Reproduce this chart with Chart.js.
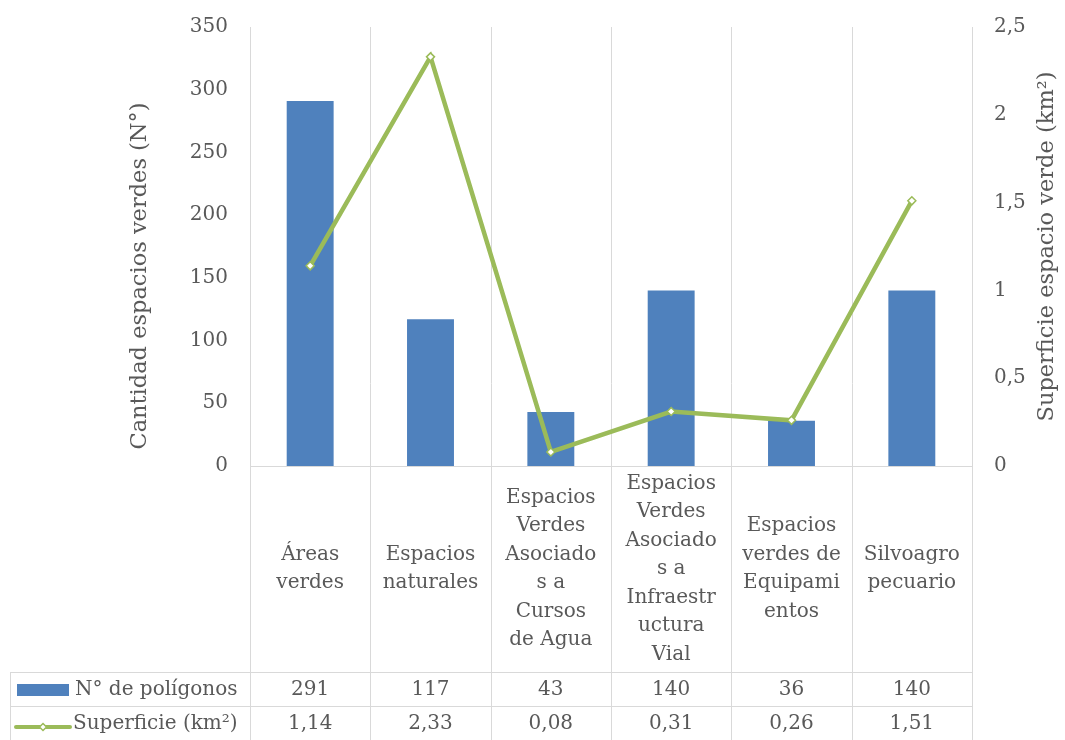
<!DOCTYPE html>
<html>
<head>
<meta charset="utf-8">
<script src="https://cdn.jsdelivr.net/npm/chart.js@4/dist/chart.umd.min.js"></script>
<style>
    html, body { margin: 0; padding: 0; background: #fff; }
    canvas { display: block; }
</style>
</head>
<body>
<canvas id="chart" width="1065" height="740"></canvas>
<script>
'use strict';

// categorias (ya partidas en lineas como en la tabla)
var categories = [
    ['Áreas', 'verdes'],
    ['Espacios', 'naturales'],
    ['Espacios', 'Verdes', 'Asociado', 's a', 'Cursos', 'de Agua'],
    ['Espacios', 'Verdes', 'Asociado', 's a', 'Infraestr', 'uctura', 'Vial'],
    ['Espacios', 'verdes de', 'Equipami', 'entos'],
    ['Silvoagro', 'pecuario']
];
var poligonos = [291, 117, 43, 140, 36, 140];
var superficie = [1.14, 2.33, 0.08, 0.31, 0.26, 1.51];
var seriesNames = ['N° de polígonos', 'Superficie (km²)'];
var leftTitle = 'Cantidad espacios verdes (N°)';
var rightTitle = 'Superficie espacio verde (km²)';

var FONT = '"DejaVu Serif", "Liberation Serif", serif';
var TEXT = '#595959';
var GRID = '#d9d9d9';
var BLUE = '#4f81bd';
var GREEN = '#9bbb59';

function comma(v, digits) {
    var s = digits === undefined ? String(v) : v.toFixed(digits);
    return s.replace('.', ',');
}

// los ejes no piden margen extra arriba/abajo, el area la fija layout.padding
function fitVertical(width) {
    return function (scale) {
        scale.width = width;
        scale.paddingTop = 0;
        scale.paddingBottom = 0;
    };
}

var tablePlugin = {
    id: 'dataTable',
    beforeDatasetsDraw: function (chart) {
        var ctx = chart.ctx;
        var area = chart.chartArea;
        var n = chart.data.labels.length;
        var H = chart.height;
        ctx.save();
        ctx.strokeStyle = GRID;
        ctx.lineWidth = 1;
        var i, bx;
        // lineas verticales entre categorias
        for (i = 0; i <= n; i++) {
            bx = Math.round(area.left + (area.right - area.left) * i / n) + 0.5;
            ctx.beginPath();
            ctx.moveTo(bx, area.top);
            ctx.lineTo(bx, H);
            ctx.stroke();
        }
        ctx.restore();
    },
    afterDraw: function (chart) {
        var ctx = chart.ctx;
        var area = chart.chartArea;
        var x = chart.scales.x;
        var n = chart.data.labels.length;
        var H = chart.height;
        var row1 = 672, row2 = 706;
        var tableLeft = 10;
        var i, j, cx, lines, lh, y0;

        ctx.save();
        ctx.strokeStyle = GRID;
        ctx.lineWidth = 1;
        ctx.beginPath();
        ctx.moveTo(area.left, Math.round(area.bottom) + 0.5);
        ctx.lineTo(area.right, Math.round(area.bottom) + 0.5);
        ctx.moveTo(tableLeft, row1 + 0.5);
        ctx.lineTo(area.right, row1 + 0.5);
        ctx.moveTo(tableLeft, row2 + 0.5);
        ctx.lineTo(area.right, row2 + 0.5);
        ctx.moveTo(tableLeft + 0.5, row1);
        ctx.lineTo(tableLeft + 0.5, H);
        ctx.stroke();

        ctx.fillStyle = TEXT;
        ctx.font = '20px ' + FONT;
        ctx.textAlign = 'center';
        ctx.textBaseline = 'middle';

        // etiquetas de categoria
        lh = 28.5;
        var mid = (area.bottom + row1) / 2;
        for (i = 0; i < n; i++) {
            cx = x.getPixelForValue(i);
            lines = chart.data.labels[i];
            y0 = mid - (lines.length - 1) * lh / 2;
            for (j = 0; j < lines.length; j++) {
                ctx.fillText(lines[j], cx, y0 + j * lh);
            }
            ctx.fillText(String(poligonos[i]), cx, (row1 + row2) / 2 + 1);
            ctx.fillText(comma(superficie[i], 2), cx, (row2 + H) / 2 + 1);
        }

        // claves de leyenda
        ctx.fillStyle = BLUE;
        ctx.fillRect(17, 684, 52, 12);
        ctx.strokeStyle = GREEN;
        ctx.lineWidth = 4;
        ctx.lineCap = 'round';
        ctx.beginPath();
        ctx.moveTo(16, 727);
        ctx.lineTo(70, 727);
        ctx.stroke();
        ctx.fillStyle = '#fff';
        ctx.lineWidth = 1.5;
        ctx.beginPath();
        ctx.moveTo(43, 723.5);
        ctx.lineTo(46.5, 727);
        ctx.lineTo(43, 730.5);
        ctx.lineTo(39.5, 727);
        ctx.closePath();
        ctx.fill();
        ctx.stroke();

        ctx.fillStyle = TEXT;
        ctx.textAlign = 'left';
        ctx.fillText(seriesNames[0], 75, (row1 + row2) / 2 + 1);
        ctx.fillText(seriesNames[1], 73, (row2 + H) / 2 + 1);

        // titulos de ejes
        ctx.font = '22.5px ' + FONT;
        ctx.textAlign = 'center';
        ctx.save();
        ctx.translate(140, 276);
        ctx.rotate(-Math.PI / 2);
        ctx.fillText(leftTitle, 0, 0);
        ctx.restore();
        ctx.save();
        ctx.translate(1047, (area.top + area.bottom) / 2);
        ctx.rotate(-Math.PI / 2);
        ctx.fillText(rightTitle, 0, 0);
        ctx.restore();
        ctx.restore();
    }
};

var chart = new Chart(document.getElementById('chart').getContext('2d'), {
    type: 'bar',
    data: {
        labels: categories,
        datasets: [{
            type: 'line',
            label: seriesNames[1],
            data: superficie,
            yAxisID: 'y1',
            order: 0,
            borderColor: GREEN,
            borderWidth: 4.5,
            tension: 0,
            pointStyle: 'rectRot',
            pointRadius: 4,
            pointBackgroundColor: '#fff',
            pointBorderColor: GREEN,
            pointBorderWidth: 1.5
        }, {
            label: seriesNames[0],
            data: poligonos,
            yAxisID: 'y',
            order: 1,
            backgroundColor: BLUE,
            categoryPercentage: 1,
            barPercentage: 0.39
        }]
    },
    options: {
        responsive: false,
        animation: false,
        layout: { padding: { top: 27, left: 0, right: 0, bottom: 0 } },
        plugins: {
            legend: { display: false },
            tooltip: { enabled: false }
        },
        scales: {
            x: {
                grid: { display: false, drawTicks: false },
                border: { display: false },
                ticks: { display: false },
                afterFit: function (scale) { scale.height = 274; }
            },
            y: {
                position: 'left',
                min: 0,
                max: 350,
                ticks: {
                    stepSize: 50,
                    padding: 22,
                    color: TEXT,
                    font: { family: FONT, size: 20 }
                },
                grid: { display: false, drawTicks: false },
                border: { display: true, color: GRID, width: 1 },
                afterFit: fitVertical(250)
            },
            y1: {
                position: 'right',
                min: 0,
                max: 2.5,
                ticks: {
                    stepSize: 0.5,
                    padding: 22,
                    color: TEXT,
                    font: { family: FONT, size: 20 },
                    callback: function (v) { return comma(v); }
                },
                grid: { display: false, drawTicks: false },
                border: { display: true, color: GRID, width: 1 },
                afterFit: fitVertical(93)
            }
        }
    },
    plugins: [tablePlugin]
});
console.log('chart area', chart.chartArea);
</script>
</body>
</html>
